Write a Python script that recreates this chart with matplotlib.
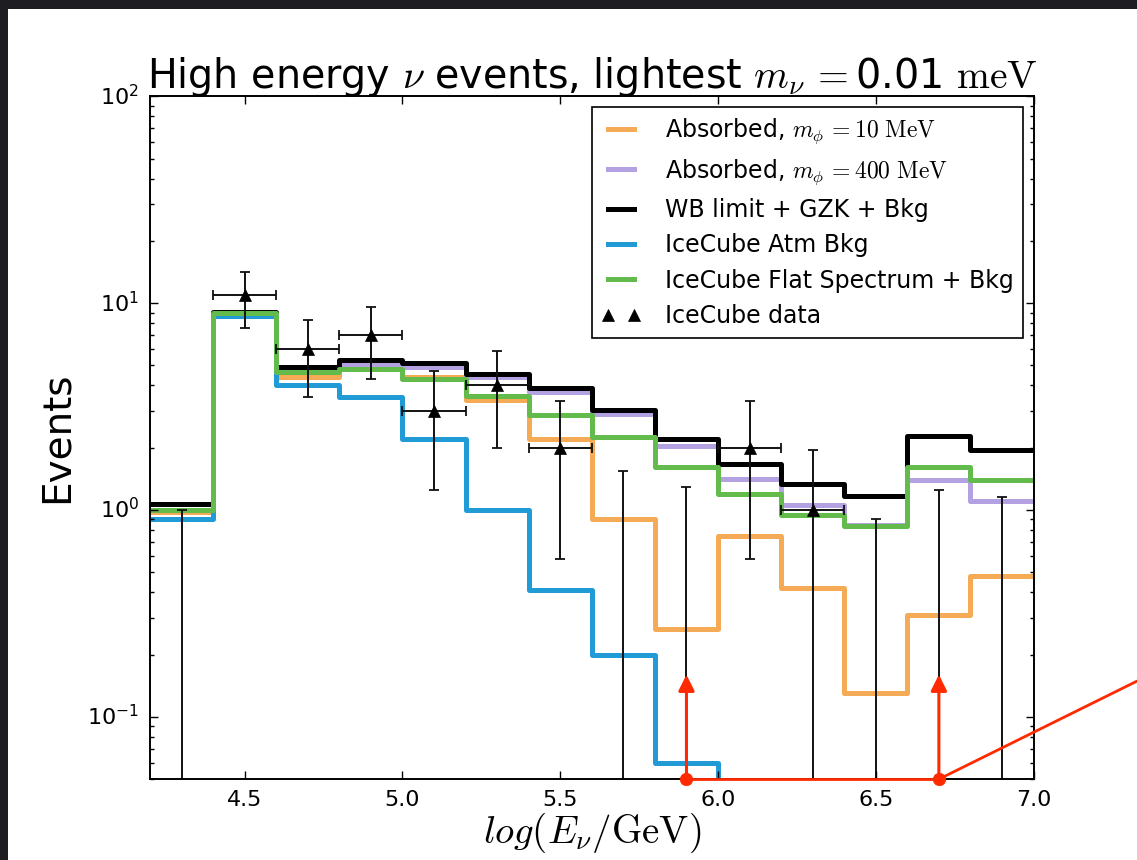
import numpy as np
import matplotlib.pyplot as plt
from matplotlib.patches import Rectangle, ConnectionPatch

plt.style.use('classic')
plt.rcParams['font.family'] = ['DejaVu Sans']
plt.rcParams['mathtext.fontset'] = 'cm'
plt.rcParams['axes.unicode_minus'] = False

# energy bins in log10(E/GeV)
edges = [4.2, 4.4, 4.6, 4.8, 5.0, 5.2, 5.4, 5.6, 5.8, 6.0, 6.2, 6.4, 6.6, 6.8, 7.0]

# expected events per bin
absorbed_10 = [0.98, 9.0, 4.4, 4.9, 4.4, 3.4, 2.2, 0.9, 0.265, 0.75, 0.42, 0.13, 0.31, 0.48]
absorbed_400 = [1.0, 9.0, 4.7, 5.0, 4.9, 4.4, 3.7, 2.9, 2.03, 1.42, 1.06, 0.85, 1.4, 1.11]
wb_gzk_bkg = [1.07, 9.1, 4.9, 5.33, 5.13, 4.56, 3.9, 3.06, 2.21, 1.67, 1.33, 1.17, 2.29, 1.96]
atm_bkg = [0.9, 8.7, 4.0, 3.5, 2.2, 1.0, 0.41, 0.2, 0.06, 0.02, 0.01, 0.005, 0.005, 0.005]
flat_bkg = [1.0, 9.0, 4.64, 4.8, 4.3, 3.55, 2.89, 2.25, 1.61, 1.19, 0.95, 0.84, 1.61, 1.39]

# IceCube observed events at bin centres
centers = [4.3, 4.5, 4.7, 4.9, 5.1, 5.3, 5.5, 5.7, 5.9, 6.1, 6.3, 6.5, 6.7, 6.9]
events = [0, 11, 6, 7, 3, 4, 2, 0, 0, 2, 1, 0, 0, 0]
err_lo = [0, 3.4, 2.5, 2.7, 1.75, 2.0, 1.42, 0, 0, 1.42, 1.0, 0, 0, 0]
err_hi = [1.0, 3.2, 2.3, 2.6, 1.7, 1.9, 1.36, 1.55, 1.29, 1.35, 0.96, 0.9, 1.25, 1.16]

# bins marked by hand, and how high the arrows go
marked = [5.9, 6.7]
arrow_top = 0.16
red = '#ff2a00'

fig = plt.figure(figsize=(11.37, 8.60), dpi=100)
fig.patch.set_facecolor('#1e1e22')
fig.add_artist(Rectangle((0.007, 0), 0.993, 0.9895, transform=fig.transFigure,
                         facecolor='white', edgecolor='none', zorder=-1))
ax = fig.add_axes([0.132, 0.094, 0.777, 0.794])

def stair(vals, color, label):
    y = list(vals) + [vals[-1]]
    ax.step(edges, y, where='post', color=color, lw=3.6, label=label)

stair(absorbed_10, '#f5aa55', r'Absorbed, $m_\phi\,{=}10\ \mathrm{MeV}$')
stair(absorbed_400, '#b3a1e2', r'Absorbed, $m_\phi\,{=}400\ \mathrm{MeV}$')
stair(wb_gzk_bkg, 'black', 'WB limit + GZK + Bkg')
stair(atm_bkg, '#219bd6', 'IceCube Atm Bkg')
stair(flat_bkg, '#62bb4b', 'IceCube Flat Spectrum + Bkg')

ev = np.array(events, dtype=float)
xerr = np.where(ev > 0, 0.1, 0.0)
ax.errorbar(centers, ev, yerr=[err_lo, err_hi], xerr=xerr, fmt='none',
            ecolor='#111111', elinewidth=1.4, capsize=3.8, capthick=1.3)
ax.plot(centers, np.ma.masked_where(ev <= 0, ev), '^', color='black', ms=8.5,
        mec='black', label='IceCube data')

ax.set_yscale('log')
ax.set_xlim(4.2, 7.0)
ax.set_ylim(0.05, 100)
ax.set_xticks([4.5, 5.0, 5.5, 6.0, 6.5, 7.0])
ax.tick_params(which='major', direction='in', length=6, width=1, labelsize=16, pad=8)
ax.tick_params(which='minor', direction='in', length=3, width=1)
for s in ax.spines.values():
    s.set_linewidth(1.4)

ax.set_title(r'High energy $\nu$ events, lightest $m_\nu\,{=}$0.01 $\mathrm{meV}$',
             fontsize=28.5, y=1.0, pad=6)
ax.set_xlabel(r'$log(E_\nu/\mathrm{GeV})$', fontsize=28, labelpad=0)
ax.set_ylabel('Events', fontsize=28, labelpad=8)

leg = ax.legend(loc='upper right', fontsize=17, numpoints=2, handlelength=1.7,
                handletextpad=1.0, labelspacing=0.48, borderaxespad=0.45,
                borderpad=0.4, fancybox=False, frameon=True)
leg.get_frame().set_edgecolor('black')
leg.get_frame().set_linewidth(1.2)

# red markers along the bottom axis
ax.plot(marked, [0.05, 0.05], color=red, lw=2, clip_on=False, zorder=6)
ax.plot(marked, [0.05, 0.05], 'o', color=red, mec=red, ms=9, clip_on=False, zorder=7)
for xm in marked:
    ax.annotate('', xy=(xm, arrow_top), xytext=(xm, 0.05),
                arrowprops=dict(arrowstyle='-|>', color=red, lw=2.2, mutation_scale=24,
                                shrinkA=0, shrinkB=0), zorder=7)
fig.add_artist(ConnectionPatch(xyA=(marked[-1], 0.05), coordsA=ax.transData,
                               xyB=(1.0, 0.208), coordsB=fig.transFigure,
                               color=red, lw=2, zorder=8))

fig.savefig('out.png', dpi=100, facecolor=fig.get_facecolor())
